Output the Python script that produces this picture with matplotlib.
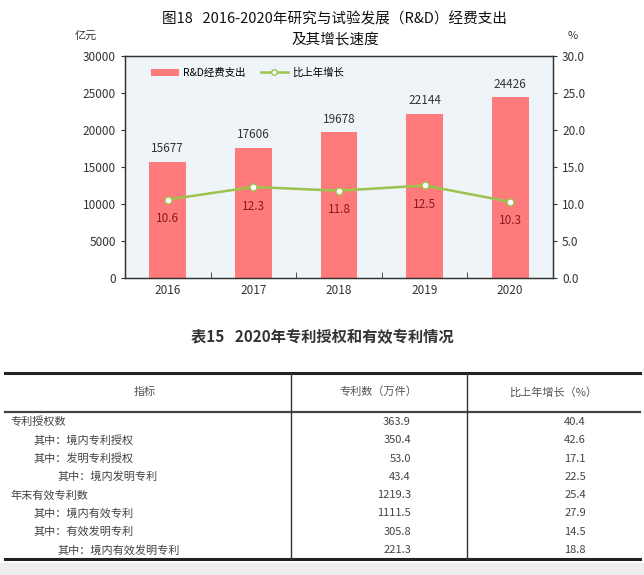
import matplotlib.pyplot as plt
from matplotlib.patches import Patch
from matplotlib.lines import Line2D
import numpy as np

plt.rcParams['font.family'] = ['Noto Sans CJK SC', 'DejaVu Sans']

# chart data
years = ['2016', '2017', '2018', '2019', '2020']
rd_spend = [15677, 17606, 19678, 22144, 24426]
growth = [10.6, 12.3, 11.8, 12.5, 10.3]

# table data
tbl_header = ['指标', '专利数（万件）', '比上年增长（%）']
tbl_items = ['专利授权数', '其中：境内专利授权', '其中：发明专利授权', '其中：境内发明专利',
             '年末有效专利数', '其中：境内有效专利', '其中：有效发明专利', '其中：境内有效发明专利']
tbl_indent = [0, 1, 1, 2, 0, 1, 1, 2]
tbl_count = [363.9, 350.4, 53.0, 43.4, 1219.3, 1111.5, 305.8, 221.3]
tbl_growth = [40.4, 42.6, 17.1, 22.5, 25.4, 27.9, 14.5, 18.8]

W, H = 644, 575
fig = plt.figure(figsize=(W / 100, H / 100), dpi=100)

# background layer in pixel coordinates (for titles and table)
bg = fig.add_axes([0, 0, 1, 1])
bg.set_xlim(0, W)
bg.set_ylim(H, 0)
bg.axis('off')
bg.add_patch(plt.Rectangle((0, 563), W, 12, color='#eeeeee', lw=0))

# ---- chart ----
ax = fig.add_axes([125 / W, 1 - 278 / H, 428 / W, 222 / H])
ax.set_facecolor('#eef4f8')
x = np.arange(len(years))
ax.bar(x, rd_spend, width=0.43, color='#ff7b7b', zorder=2)
for i, v in enumerate(rd_spend):
    ax.text(i, v + 900, str(v), ha='center', va='bottom', fontsize=8.5, color='#333333')
ax.set_xlim(-0.5, len(years) - 0.5)
ax.set_ylim(0, 30000)
ax.set_yticks(np.arange(0, 30001, 5000))
ax.set_xticks(x)
ax.set_xticklabels(years)
ax.set_xticks(x[:-1] + 0.5, minor=True)
ax.tick_params(axis='x', which='major', length=0, labelsize=8.5, colors='#333333', pad=4)
ax.tick_params(axis='x', which='minor', direction='in', length=4, color='#333333')
ax.tick_params(axis='y', direction='out', length=3, labelsize=8.5, colors='#333333')
for s in ax.spines.values():
    s.set_color('#333333')
    s.set_linewidth(1.0)

ax2 = ax.twinx()
ax2.plot(x, growth, color='#9bc44c', lw=1.8, marker='o', ms=5,
         markerfacecolor='white', markeredgecolor='#9bc44c', zorder=3)
for i, g in enumerate(growth):
    ax2.text(i, g - 1.7, f'{g:.1f}', ha='center', va='top', fontsize=8.5, color='#8b1a1a')
ax2.set_ylim(0, 30)
ax2.set_yticks(np.arange(0, 30.1, 5))
ax2.set_yticklabels([f'{t:.1f}' for t in np.arange(0, 30.1, 5)])
ax2.tick_params(axis='y', direction='out', length=3, labelsize=8.5, colors='#333333')
for s in ax2.spines.values():
    s.set_color('#333333')

handles = [Patch(facecolor='#ff7b7b', edgecolor='none'),
           Line2D([], [], color='#9bc44c', lw=1.8, marker='o', ms=4,
                  markerfacecolor='white', markeredgecolor='#9bc44c')]
ax.legend(handles, ['R&D经费支出', '比上年增长'], loc='upper left', ncol=2, frameon=False,
          bbox_to_anchor=(0.04, 0.99), fontsize=7.5, handlelength=2.6, handleheight=0.6,
          columnspacing=1.5, handletextpad=0.4)

bg.text(335, 19, '图18   2016-2020年研究与试验发展（R&D）经费支出', ha='center', va='center',
        fontsize=10.5, color='#111111')
bg.text(335, 40, '及其增长速度', ha='center', va='center', fontsize=10.5, color='#111111')
bg.text(86, 36, '亿元', ha='center', va='center', fontsize=8, color='#333333')
bg.text(573, 36, '%', ha='center', va='center', fontsize=8, color='#333333')

# ---- table ----
bg.text(322, 337, '表15   2020年专利授权和有效专利情况', ha='center', va='center',
        fontsize=11, fontweight='bold', color='#333333')
L, R = 5, 640
c1, c2 = 291, 467
top, hdr, bot = 373, 412, 559
bg.plot([L, R], [top, top], color='#222222', lw=2.2)
bg.plot([L, R], [hdr, hdr], color='#444444', lw=1.6)
bg.plot([L, R], [bot, bot], color='#222222', lw=2.2)
bg.plot([c1, c1], [top, bot], color='#333333', lw=1.0)
bg.plot([c2, c2], [top, bot], color='#333333', lw=1.0)
hy = 392
bg.text(145, hy, tbl_header[0], ha='center', va='center', fontsize=8, color='#555555')
bg.text(378, hy, tbl_header[1], ha='center', va='center', fontsize=8, color='#555555')
bg.text(553, hy, tbl_header[2], ha='center', va='center', fontsize=8, color='#555555')
for r, (lab, ind, cnt, gr) in enumerate(zip(tbl_items, tbl_indent, tbl_count, tbl_growth)):
    y = 422 + r * 18.3
    bg.text(10 + ind * 24, y, lab, ha='left', va='center', fontsize=8, color='#444444')
    bg.text(411, y, f'{cnt:.1f}', ha='right', va='center', fontsize=8, color='#444444')
    bg.text(586, y, f'{gr:.1f}', ha='right', va='center', fontsize=8, color='#444444')

fig.savefig('out.png', dpi=100)
